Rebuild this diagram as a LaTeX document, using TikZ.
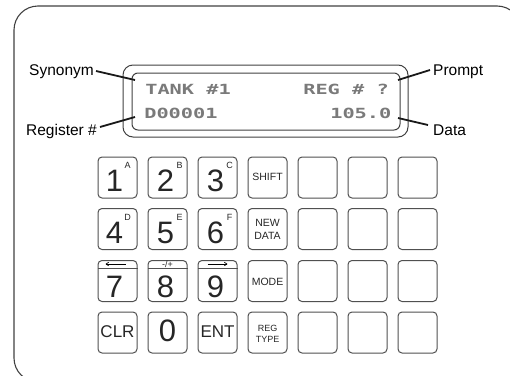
\documentclass[tikz,border=0pt]{standalone}
\usepackage{fontspec}
\setmainfont{Liberation Sans}
\newfontfamily\lcdfont{DejaVu Sans Mono}
\usetikzlibrary{calc,arrows.meta}
\definecolor{frame}{HTML}{404040}
\definecolor{keyline}{HTML}{505050}
\definecolor{lcd}{HTML}{7A7A7A}
\tikzset{
  keybox/.style={draw=keyline, line width=1pt, rounded corners=4pt, minimum width=39pt, minimum height=41pt, inner sep=0pt},
  dig/.style={font=\fontsize{31}{31}\selectfont, inner sep=0pt, anchor=base, text=black!85},
  sup/.style={font=\fontsize{9}{9}\selectfont, inner sep=0pt, anchor=base, text=black!85},
  small/.style={font=\fontsize{10.5}{10.5}\selectfont, inner sep=0pt, anchor=base, text=black!85},
  mid/.style={font=\fontsize{17}{17}\selectfont, inner sep=0pt, anchor=base, text=black!85},
  lcdtxt/.style={font=\fontsize{14}{14}\selectfont\lcdfont\bfseries, text=lcd, inner sep=0pt, anchor=base west, xscale=1.45},
  lbl/.style={font=\fontsize{15.5}{15.5}\selectfont, inner sep=0pt},
  leader/.style={line width=1.8pt, black!90},
}
\begin{document}
\begin{tikzpicture}[x=1pt,y=-1pt]
\useasboundingbox (0,0) rectangle (510,375);
\clip (0,0) rectangle (510,375);
% outer frame
\draw[frame, line width=1.1pt, rounded corners=24pt] (14,6) rectangle (521,382);
% display
\draw[frame, line width=1pt, rounded corners=10pt] (123,65) rectangle (408,137);
\draw[frame, line width=1pt, rounded corners=6pt] (132,73) rectangle (400,130);
\node[lcdtxt] (t1) at (145,94) {TANK\ \#1};
\node[lcdtxt] (t2) at (303,94) {REG\ \#\ ?};
\node[lcdtxt] (t3) at (144,118) {D00001};
\node[lcdtxt] (t4) at (330,118) {105.0};
% labels
\node[lbl, anchor=base east] (syn) at (94,75) {Synonym};
\node[lbl, anchor=base east] (reg) at (97,135) {Register \#};
\node[lbl, anchor=base west] (prm) at (433,75) {Prompt};
\node[lbl, anchor=base west] (dat) at (433,135) {Data};
\coordinate (cs) at (135,80);
\coordinate (cr) at (135,117);
\coordinate (cp) at (398,80);
\coordinate (cd) at (398,118);
\draw[leader] ($(syn.base east)+(2,-4)$) -- (cs);
\draw[leader] ($(reg.base east)+(3,-8)$) -- (cr);
\draw[leader] ($(prm.base west)+(-3,-5)$) -- (cp);
\draw[leader] ($(dat.base west)+(-5,-10)$) -- (cd);
% keys
\foreach \r/\y in {1/177.5,2/229,3/281,4/332.5}{
  \foreach \c/\x in {1/117.5,2/167.5,3/217.5,4/267.5,5/317.5,6/367.5,7/417.5}{
    \node[keybox] (k\r\c) at (\x,\y) {};
  }
}
% row 1
\node[dig] (d1) at ($(k11.center)+(-3,14)$) {1};
\node[sup] (s1) at ($(k11.center)+(10,-9)$) {A};
\node[dig] (d2) at ($(k12.center)+(-2,14)$) {2};
\node[sup] (s2) at ($(k12.center)+(12,-9)$) {B};
\node[dig] (d3) at ($(k13.center)+(-2,14)$) {3};
\node[sup] (s3) at ($(k13.center)+(12,-9)$) {C};
\node[small] (shift) at ($(k14.center)+(0,3)$) {SHIFT};
% row 2
\node[dig] (d4) at ($(k21.center)+(-3,14)$) {4};
\node[sup] (s4) at ($(k21.center)+(10,-9)$) {D};
\node[dig] (d5) at ($(k22.center)+(-2,14)$) {5};
\node[sup] (s5) at ($(k22.center)+(12,-9)$) {E};
\node[dig] (d6) at ($(k23.center)+(-2,14)$) {6};
\node[sup] (s6) at ($(k23.center)+(12,-9)$) {F};
\node[small] (new) at ($(k24.center)+(0,-3)$) {NEW};
\node[small] (data) at ($(k24.center)+(0,10)$) {DATA};
% row 3
\foreach \c in {1,2,3}{
  \draw[keyline, line width=0.8pt] ($(k3\c.north west)+(0,8)$) -- ($(k3\c.north east)+(0,8)$);
}
\coordinate (a7l) at ($(k31.center)+(-12,-17)$);
\coordinate (a7r) at ($(k31.center)+(8,-17)$);
\draw[-{Straight Barb[length=2.5pt,width=3.5pt]}, line width=0.7pt] (a7r) -- (a7l);
\coordinate (a9l) at ($(k33.center)+(-10,-17)$);
\coordinate (a9r) at ($(k33.center)+(10,-17)$);
\draw[-{Straight Barb[length=2.5pt,width=3.5pt]}, line width=0.7pt] (a9l) -- (a9r);
\node[sup] (pm) at ($(k32.center)+(0,-14)$) {-/+};
\node[dig] (d7) at ($(k31.center)+(-3,16.5)$) {7};
\node[dig] (d8) at ($(k32.center)+(-2,16.5)$) {8};
\node[dig] (d9) at ($(k33.center)+(-2,16.5)$) {9};
\node[small] (mode) at ($(k34.center)+(0,4)$) {MODE};
% row 4
\node[mid] (clr) at ($(k41.center)+(0,4.5)$) {CLR};
\node[dig] (d0) at ($(k42.center)+(0,9)$) {0};
\node[mid] (ent) at ($(k43.center)+(0,4.5)$) {ENT};
\node[sup] (regk) at ($(k44.center)+(0,-1.5)$) {REG};
\node[sup] (type) at ($(k44.center)+(0,9.5)$) {TYPE};
\end{tikzpicture}
\end{document}
